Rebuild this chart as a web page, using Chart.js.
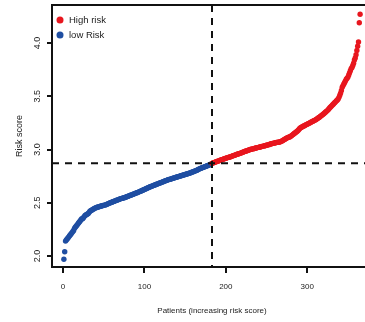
<!DOCTYPE html>
<html>
<head>
<meta charset="utf-8">
<script src="https://cdn.jsdelivr.net/npm/chart.js@4.4.1/dist/chart.umd.min.js"></script>
<style>
  html, body { margin: 0; padding: 0; background: #fff; overflow: hidden; }
  #wrap { width: 372px; height: 322px; }
</style>
</head>
<body>
<div id="wrap"><canvas id="riskChart" width="372" height="322"></canvas></div>
<script>
// risk score of each patient, sorted ascending (patient 1..365)
const riskScores = [
  1.97, 2.04, 2.14, 2.15, 2.16, 2.17, 2.18, 2.19, 2.20, 2.21,
  2.22, 2.23, 2.24, 2.26, 2.27, 2.28, 2.29, 2.30, 2.31, 2.32,
  2.33, 2.34, 2.35, 2.35, 2.36, 2.37, 2.38, 2.385, 2.39, 2.395,
  2.40, 2.41, 2.42, 2.425, 2.43, 2.435, 2.44, 2.445, 2.45, 2.452,
  2.455, 2.458, 2.46, 2.462, 2.465, 2.468, 2.47, 2.472, 2.474, 2.476,
  2.478, 2.48, 2.483, 2.486, 2.49, 2.493, 2.497, 2.50, 2.503, 2.506,
  2.509, 2.512, 2.515, 2.518, 2.521, 2.524, 2.527, 2.53, 2.533, 2.536,
  2.539, 2.541, 2.543, 2.545, 2.548, 2.55, 2.553, 2.556, 2.559, 2.562,
  2.565, 2.568, 2.571, 2.574, 2.577, 2.58, 2.583, 2.586, 2.589, 2.592,
  2.595, 2.598, 2.601, 2.605, 2.608, 2.611, 2.615, 2.618, 2.622, 2.625,
  2.629, 2.632, 2.636, 2.639, 2.643, 2.646, 2.65, 2.653, 2.656, 2.659,
  2.662, 2.665, 2.668, 2.671, 2.674, 2.677, 2.68, 2.683, 2.686, 2.689,
  2.692, 2.695, 2.698, 2.701, 2.704, 2.707, 2.71, 2.713, 2.716, 2.718,
  2.72, 2.722, 2.725, 2.727, 2.73, 2.732, 2.734, 2.737, 2.739, 2.742,
  2.744, 2.746, 2.749, 2.751, 2.754, 2.756, 2.758, 2.761, 2.763, 2.766,
  2.768, 2.77, 2.773, 2.775, 2.778, 2.78, 2.783, 2.786, 2.789, 2.792,
  2.795, 2.798, 2.801, 2.804, 2.808, 2.812, 2.816, 2.82, 2.823, 2.826,
  2.829, 2.832, 2.835, 2.838, 2.841, 2.844, 2.847, 2.85, 2.853, 2.856,
  2.86, 2.865, 2.87, 2.873, 2.876, 2.879, 2.882, 2.885, 2.887, 2.89,
  2.893, 2.896, 2.899, 2.902, 2.904, 2.907, 2.91, 2.913, 2.915, 2.918,
  2.921, 2.924, 2.926, 2.928, 2.93, 2.933, 2.936, 2.939, 2.942, 2.945,
  2.947, 2.95, 2.953, 2.955, 2.958, 2.961, 2.964, 2.966, 2.969, 2.972,
  2.975, 2.978, 2.981, 2.984, 2.986, 2.989, 2.992, 2.995, 2.997, 3.00,
  3.002, 3.004, 3.006, 3.008, 3.01, 3.012, 3.014, 3.016, 3.018, 3.02,
  3.022, 3.024, 3.026, 3.028, 3.03, 3.032, 3.034, 3.036, 3.038, 3.04,
  3.042, 3.044, 3.046, 3.05, 3.052, 3.054, 3.056, 3.058, 3.06, 3.062,
  3.064, 3.066, 3.067, 3.068, 3.069, 3.07, 3.073, 3.077, 3.081, 3.085,
  3.09, 3.095, 3.10, 3.104, 3.108, 3.112, 3.115, 3.118, 3.12, 3.126,
  3.132, 3.138, 3.144, 3.15, 3.156, 3.162, 3.168, 3.175, 3.182, 3.19,
  3.20, 3.205, 3.21, 3.214, 3.218, 3.222, 3.226, 3.23, 3.234, 3.238,
  3.242, 3.246, 3.25, 3.254, 3.258, 3.262, 3.266, 3.27, 3.274, 3.278,
  3.283, 3.288, 3.293, 3.298, 3.304, 3.31, 3.316, 3.322, 3.328, 3.334,
  3.34, 3.347, 3.354, 3.361, 3.368, 3.376, 3.385, 3.395, 3.402, 3.41,
  3.418, 3.426, 3.434, 3.442, 3.45, 3.458, 3.466, 3.474, 3.49, 3.51,
  3.53, 3.555, 3.585, 3.60, 3.615, 3.63, 3.645, 3.66, 3.67, 3.68,
  3.70, 3.72, 3.74, 3.76, 3.77, 3.79, 3.81, 3.84, 3.86, 3.89,
  3.93, 3.97, 4.01, 4.19, 4.27
];
const cutoffPatient = 183;   // first high-risk patient (median)
const cutoffScore = 2.87;    // median risk score
const xTicks = [0, 100, 200, 300];
const yTicks = [2.0, 2.5, 3.0, 3.5, 4.0];
const groupLabels = ['High risk', 'low Risk'];
const groupColors = ['#e8161e', '#1f4ea2'];

let highRisk = [], lowRisk = [];
riskScores.forEach((v, i) => {
  const pt = { x: i + 1, y: v };
  if (i + 1 < cutoffPatient) lowRisk.push(pt); else highRisk.push(pt);
});

const FONT = '"Liberation Sans", Arial, sans-serif';
const INK = '#222';

// fixed axis sizes, no extra label padding so the plot box lands where it should
function fixSize(prop, size) {
  return s => {
    s[prop] = size;
    s.paddingTop = s.paddingBottom = s.paddingLeft = s.paddingRight = 0;
  };
}

const extras = {
  id: 'extras',
  afterDatasetsDraw(chart) {
    const { ctx, chartArea: a, scales: { x, y } } = chart;
    ctx.save();
    // cutoff lines
    ctx.strokeStyle = '#111';
    ctx.lineWidth = 2;
    ctx.setLineDash([7, 6]);
    const cx = x.getPixelForValue(cutoffPatient);
    const cy = y.getPixelForValue(cutoffScore);
    ctx.beginPath();
    ctx.moveTo(cx, a.top); ctx.lineTo(cx, a.bottom);
    ctx.moveTo(a.left, cy); ctx.lineTo(a.right, cy);
    ctx.stroke();
    ctx.setLineDash([]);
    // top / right of the box
    ctx.beginPath();
    ctx.moveTo(a.left, a.top); ctx.lineTo(a.right, a.top); ctx.lineTo(a.right, a.bottom);
    ctx.stroke();
    // legend
    ctx.font = '9.5px ' + FONT;
    ctx.textBaseline = 'middle';
    chart.data.datasets.forEach((ds, k) => {
      const ly = a.top + 15 + k * 15;
      ctx.fillStyle = ds.backgroundColor;
      ctx.beginPath();
      ctx.arc(a.left + 8, ly, 3.5, 0, Math.PI * 2);
      ctx.fill();
      ctx.fillStyle = INK;
      ctx.fillText(ds.label, a.left + 17, ly);
    });
    ctx.restore();
  }
};

new Chart(document.getElementById('riskChart').getContext('2d'), {
  type: 'scatter',
  data: {
    datasets: [
      { label: groupLabels[0], data: highRisk, backgroundColor: groupColors[0], borderWidth: 0, pointRadius: 2.7 },
      { label: groupLabels[1], data: lowRisk, backgroundColor: groupColors[1], borderWidth: 0, pointRadius: 2.7 }
    ]
  },
  options: {
    responsive: false,
    animation: false,
    events: [],
    layout: { autoPadding: false, padding: { top: 5, left: 0, right: 0, bottom: 0 } },
    plugins: { legend: { display: false }, tooltip: { enabled: false } },
    scales: {
      x: {
        type: 'linear',
        min: -13.6, max: 379.6,
        afterFit: fixSize('height', 55),
        afterBuildTicks: s => { s.ticks = xTicks.map(v => ({ value: v })); },
        grid: { drawOnChartArea: false, drawTicks: true, tickLength: 6, color: '#111', lineWidth: 2 },
        border: { display: true, color: '#111', width: 2 },
        ticks: { padding: 9, color: INK, font: { family: FONT, size: 8 }, maxRotation: 0, callback: v => v },
        title: { display: true, text: 'Patients (increasing risk score)', color: INK,
                 font: { family: FONT, size: 8 }, padding: { top: 0, bottom: 6 } }
      },
      y: {
        type: 'linear',
        min: 1.897, max: 4.357,
        afterFit: fixSize('width', 52),
        afterBuildTicks: s => { s.ticks = yTicks.map(v => ({ value: v })); },
        grid: { drawOnChartArea: false, drawTicks: true, tickLength: 5, color: '#111', lineWidth: 2 },
        border: { display: true, color: '#111', width: 2 },
        ticks: { padding: 3, color: INK, font: { family: FONT, size: 9 },
                 minRotation: 90, maxRotation: 90, crossAlign: 'center', callback: v => v.toFixed(1) },
        title: { display: true, text: 'Risk score', color: INK,
                 font: { family: FONT, size: 9 }, padding: { top: 14, bottom: 0 } }
      }
    }
  },
  plugins: [extras]
});
</script>
</body>
</html>
